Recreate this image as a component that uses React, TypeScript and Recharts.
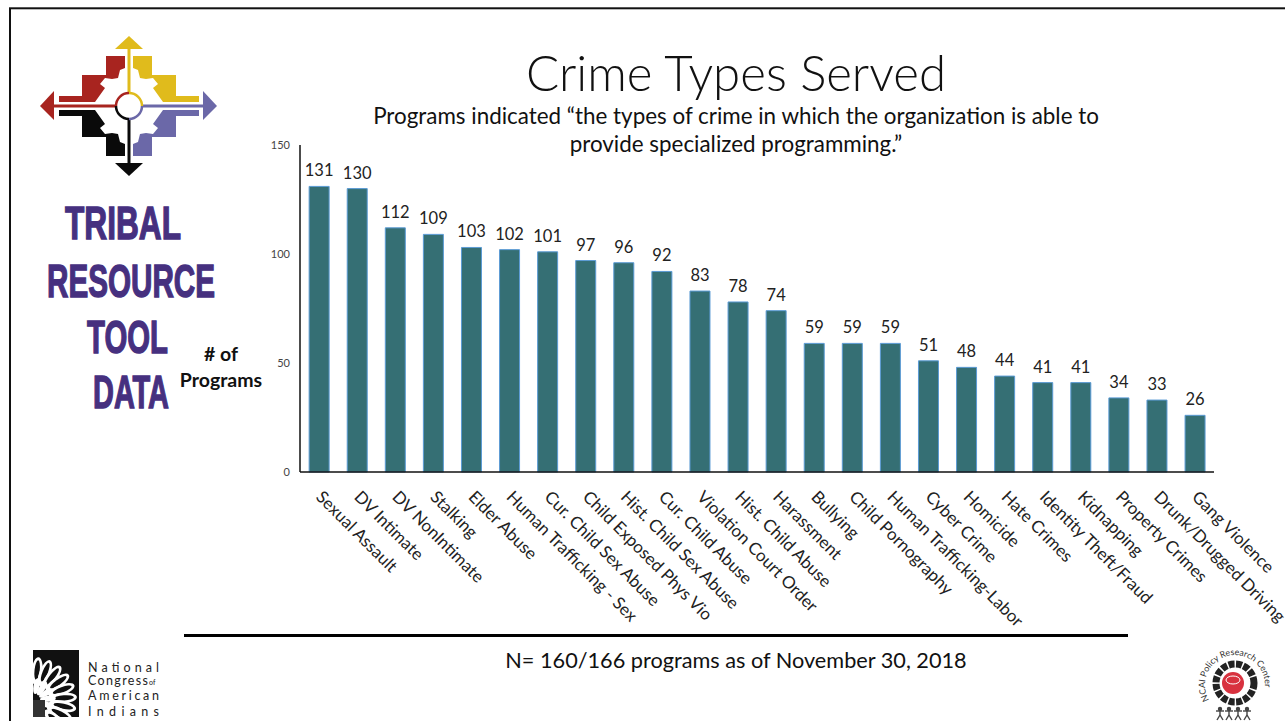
import { BarChart, Bar, XAxis, YAxis, LabelList } from 'recharts'

const categories = [
  'Sexual Assault', 'DV Intimate', 'DV NonIntimate', 'Stalking', 'Elder Abuse',
  'Human Trafficking - Sex', 'Cur. Child Sex Abuse', 'Child Exposed Phys Vio',
  'Hist. Child Sex Abuse', 'Cur. Child Abuse', 'Violation Court Order',
  'Hist. Child Abuse', 'Harassment', 'Bullying', 'Child Pornography',
  'Human Trafficking-Labor', 'Cyber Crime', 'Homicide', 'Hate Crimes',
  'Identity Theft/Fraud', 'Kidnapping', 'Property Crimes', 'Drunk/Drugged Driving',
  'Gang Violence',
]
const programs = [131, 130, 112, 109, 103, 102, 101, 97, 96, 92, 83, 78, 74, 59, 59, 59, 51, 48, 44, 41, 41, 34, 33, 26]
const yTicks = [0, 50, 100, 150]

const data = categories.map((name, i) => ({ name, value: programs[i] }))

const FONT = 'Lato, "Open Sans", sans-serif'

function AngledTick({ x, y, payload }: any) {
  return (
    <text
      x={x - 4}
      y={y + 18}
      transform={`rotate(45 ${x - 4} ${y + 18})`}
      textAnchor="start"
      fontFamily={FONT}
      fontSize={17}
      fill="#222"
    >
      {payload.value}
    </text>
  )
}

const QUADRANT = '59,96 82,96 82,75 106,75 106,56 125,56 125,68 120,70 118,78 112,79 105,78 100,84 105,88 100,95 95,102 59,102'

function CompassLogo() {
  const quads = [
    { color: '#a8241f', t: '' },
    { color: '#e0bb1c', t: 'translate(258 0) scale(-1 1)' },
    { color: '#0a0a0a', t: 'translate(0 212) scale(1 -1)' },
    { color: '#6b68a8', t: 'translate(258 212) scale(-1 -1)' },
  ]
  return (
    <g>
      {quads.map((q) => (
        <polygon key={q.color} points={QUADRANT} fill={q.color} transform={q.t} />
      ))}
      <rect x={127.5} y={48} width={3} height={46} fill="#e0bb1c" />
      <polygon points="129,36 115,49 143,49" fill="#e0bb1c" />
      <rect x={127.5} y={118} width={3} height={48} fill="#0a0a0a" />
      <polygon points="129,176 115,163 143,163" fill="#0a0a0a" />
      <rect x={52} y={104.5} width={65} height={3} fill="#a8241f" />
      <polygon points="40,106 54,91 54,120" fill="#a8241f" />
      <rect x={141} y={104.5} width={65} height={3} fill="#6b68a8" />
      <polygon points="217,106 203,91 203,120" fill="#6b68a8" />
      <circle cx={129} cy={106} r={13} fill="#fff" />
      <path d="M 116 106 A 13 13 0 0 1 129 93" fill="none" stroke="#a8241f" strokeWidth={2.5} />
      <path d="M 129 93 A 13 13 0 0 1 142 106" fill="none" stroke="#e0bb1c" strokeWidth={2.5} />
      <path d="M 142 106 A 13 13 0 0 1 129 119" fill="none" stroke="#6b68a8" strokeWidth={2.5} />
      <path d="M 129 119 A 13 13 0 0 1 116 106" fill="none" stroke="#0a0a0a" strokeWidth={2.5} />
    </g>
  )
}

function Wordmark() {
  const lines = [
    { text: 'TRIBAL', x: 65, y: 239, w: 116 },
    { text: 'RESOURCE', x: 47, y: 296.5, w: 168 },
    { text: 'TOOL', x: 87, y: 353, w: 81 },
    { text: 'DATA', x: 93, y: 408, w: 76 },
  ]
  return (
    <g>
      {lines.map((l) => (
        <text
          key={l.text}
          x={l.x}
          y={l.y}
          textLength={l.w}
          lengthAdjust="spacingAndGlyphs"
          fontFamily='"Liberation Sans Narrow", "Liberation Sans", sans-serif'
          fontWeight={700}
          fontSize={46}
          fill="#46307f"
          stroke="#46307f"
          strokeWidth={1.4}
        >
          {l.text}
        </text>
      ))}
    </g>
  )
}

function NcaiLogo() {
  const outerFeathers = [-100, -84, -68, -52, -36, -20, -4, 12, 28, 44]
  const innerFeathers = [-80, -55, -30, -5, 20]
  const rows = [
    { text: 'National', y: 672, w: 71 },
    { text: 'Congress', y: 685, w: 60 },
    { text: 'American', y: 700, w: 71 },
    { text: 'Indians', y: 716, w: 71 },
  ]
  return (
    <g>
      <defs>
        <clipPath id="ncai-clip">
          <rect x={33} y={650} width={46} height={67} />
        </clipPath>
      </defs>
      <g clipPath="url(#ncai-clip)">
        <rect x={33} y={650} width={46} height={67} fill="#111" />
        {outerFeathers.map((a) => (
          <g key={a} transform={`rotate(${a} 34 700) translate(34 700)`}>
            <ellipse cx={29} cy={0} rx={14} ry={5.5} fill="#fff" />
            <ellipse cx={30} cy={0} rx={10} ry={2.6} fill="#111" />
          </g>
        ))}
        {innerFeathers.map((a) => (
          <g key={a} transform={`rotate(${a} 34 700) translate(34 700)`}>
            <ellipse cx={14} cy={0} rx={8} ry={3} fill="#fff" />
          </g>
        ))}
        <rect x={33} y={700} width={12} height={17} fill="#333" />
      </g>
      {rows.map((r) => (
        <text key={r.text} x={88} y={r.y} textLength={r.w} fontFamily={FONT} fontSize={12.5} fill="#222">
          {r.text}
        </text>
      ))}
      <text x={149} y={685} fontFamily={FONT} fontSize={7} fill="#222">of</text>
    </g>
  )
}

function PolicyLogo() {
  const people = [1220, 1229, 1238, 1247]
  return (
    <g>
      <defs>
        <path id="ring-text" d="M 1209 700 A 30 30 0 1 1 1261 700" fill="none" />
      </defs>
      <text fontFamily={FONT} fontSize={8.8} fill="#333">
        <textPath href="#ring-text">NCAI Policy Research Center</textPath>
      </text>
      <circle cx={1235} cy={683} r={19} fill="#fff" stroke="#222" strokeWidth={7} strokeDasharray="6 1.5" />
      <circle cx={1233} cy={683} r={11} fill="#d8323f" />
      <ellipse cx={1233} cy={680} rx={7} ry={4} fill="none" stroke="#fff" strokeWidth={1} />
      {people.map((x) => (
        <g key={x} stroke="#444" strokeWidth={1.4}>
          <circle cx={x} cy={709} r={1.5} fill="#444" />
          <line x1={x - 4} y1={711} x2={x + 4} y2={711} />
          <line x1={x} y1={711} x2={x} y2={715} />
          <line x1={x} y1={715} x2={x - 3} y2={720} />
          <line x1={x} y1={715} x2={x + 3} y2={720} />
        </g>
      ))}
    </g>
  )
}

export default function App() {
  return (
    <div style={{ position: 'absolute', left: 0, top: 0, width: 1285, height: 721, overflow: 'hidden', background: '#fff' }}>
      <svg width={1285} height={721} style={{ position: 'absolute', left: 0, top: 0 }}>
        <rect x={10} y={8.3} width={1290} height={730} fill="none" stroke="#111" strokeWidth={2} />
        <CompassLogo />
        <Wordmark />
        <NcaiLogo />
        <PolicyLogo />
        <g fontFamily={FONT} textAnchor="middle" fill="#111">
          <text x={736} y={91} fontSize={49.2} fontWeight={300}>Crime Types Served</text>
          <text x={736} y={124} fontSize={22.4}>Programs indicated “the types of crime in which the organization is able to</text>
          <text x={736} y={152} fontSize={22.4}>provide specialized programming.”</text>
          <text x={221} y={361} fontSize={19.5} fontWeight={700}>
            # of
          </text>
          <text x={221} y={387} fontSize={19.5} fontWeight={700}>
            Programs
          </text>
          <text x={736} y={668} fontSize={21.7}>N= 160/166 programs as of November 30, 2018</text>
        </g>
        <rect x={184} y={634} width={944} height={3} fill="#000" />
      </svg>
      <div style={{ position: 'absolute', left: 0, top: 0 }}>
        <BarChart
          width={1285}
          height={721}
          data={data}
          barCategoryGap="24%"
          margin={{ top: 145, right: 71, bottom: 9, left: 250 }}
        >
          <XAxis
            dataKey="name"
            interval={0}
            height={240}
            tickLine={false}
            axisLine={{ stroke: '#111', strokeWidth: 1.5 }}
            tick={<AngledTick />}
          />
          <YAxis
            width={50}
            domain={[0, 150]}
            ticks={yTicks}
            tickLine={false}
            axisLine={{ stroke: '#111', strokeWidth: 1.5 }}
            tick={{ fontSize: 11, fill: '#444', fontFamily: FONT }}
            tickMargin={4}
          />
          <Bar dataKey="value" fill="#356f74" stroke="#5b9bd5" strokeWidth={1} isAnimationActive={false}>
            <LabelList dataKey="value" position="top" offset={10} fontSize={16.5} fill="#222" fontFamily={FONT} />
          </Bar>
        </BarChart>
      </div>
    </div>
  )
}
